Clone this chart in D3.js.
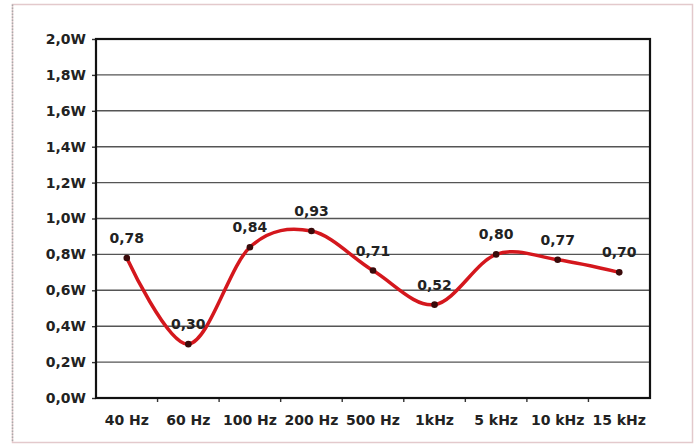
<!DOCTYPE html>
<html>
<head>
<meta charset="UTF-8">
<script src="https://d3js.org/d3.v7.min.js"></script>
<style>
  body { margin: 0; background: #fff; }
  text { font-family: "DejaVu Sans", Verdana, sans-serif; font-weight: bold; fill: #222; }
</style>
</head>
<body>
<svg width="697" height="445"></svg>
<script>
const categories = ["40 Hz", "60 Hz", "100 Hz", "200 Hz", "500 Hz", "1kHz", "5 kHz", "10 kHz", "15 kHz"];
const values = [0.78, 0.30, 0.84, 0.93, 0.71, 0.52, 0.80, 0.77, 0.70];
const yTicks = [0, 0.2, 0.4, 0.6, 0.8, 1.0, 1.2, 1.4, 1.6, 1.8, 2.0];

const data = categories.map((c, i) => ({ cat: c, val: values[i] }));

const margin = { top: 39, right: 47, bottom: 47, left: 96 },
      width = 697 - margin.left - margin.right,
      height = 445 - margin.top - margin.bottom;

const root = d3.select("svg");

// outer frame
root.append("rect")
    .attr("x", 12.5).attr("y", 4.5)
    .attr("width", 680).attr("height", 438)
    .attr("fill", "none")
    .attr("stroke", "#e3c9cc")
    .attr("stroke-width", 1.5);
root.append("line")
    .attr("x1", 12.5).attr("x2", 12.5)
    .attr("y1", 4.5).attr("y2", 442.5)
    .attr("stroke", "#aaa")
    .attr("stroke-width", 1.5)
    .attr("stroke-dasharray", "1.5,1.5");

const svg = root.append("g")
    .attr("transform", `translate(${margin.left},${margin.top})`);

const x = d3.scaleBand().domain(categories).range([0, width]);
const y = d3.scaleLinear().domain([0, 2]).range([height, 0]);

// gridlines
svg.selectAll(".grid")
   .data(yTicks)
   .enter()
   .append("line")
   .attr("x1", 0).attr("x2", width)
   .attr("y1", d => y(d)).attr("y2", d => y(d))
   .attr("stroke", "#555")
   .attr("stroke-width", 1.4);

// y axis
const yAxis = svg.append("g")
   .call(d3.axisLeft(y).tickValues(yTicks).tickSize(4).tickPadding(6)
         .tickFormat(d => d3.format(".1f")(d).replace(".", ",") + "W"));
yAxis.select(".domain").remove();
yAxis.selectAll("line").attr("stroke", "#333").attr("stroke-width", 1.4);
yAxis.selectAll("text").style("font-size", "14px").attr("fill", "#222");

// x axis
const xAxis = svg.append("g")
   .attr("transform", `translate(0,${height})`)
   .call(d3.axisBottom(x).tickSize(0).tickPadding(17));
xAxis.select(".domain").remove();
xAxis.selectAll("text").style("font-size", "14px").attr("fill", "#222");

// x tick marks at band boundaries
svg.selectAll(".xtick")
   .data(categories.slice(1))
   .enter()
   .append("line")
   .attr("x1", d => x(d)).attr("x2", d => x(d))
   .attr("y1", height).attr("y2", height + 4)
   .attr("stroke", "#333")
   .attr("stroke-width", 1.4);

// plot border
svg.append("rect")
   .attr("width", width).attr("height", height)
   .attr("fill", "none")
   .attr("stroke", "#111")
   .attr("stroke-width", 2.2);

const cx = d => x(d.cat) + x.bandwidth() / 2;

const line = d3.line()
    .x(cx)
    .y(d => y(d.val))
    .curve(d3.curveCardinal.tension(0));

svg.append("path")
   .datum(data)
   .attr("d", line)
   .attr("fill", "none")
   .attr("stroke", "#d4171d")
   .attr("stroke-width", 3.5);

svg.selectAll(".dot")
   .data(data)
   .enter()
   .append("circle")
   .attr("cx", cx)
   .attr("cy", d => y(d.val))
   .attr("r", 3.3)
   .attr("fill", "#3a0a0a");

svg.selectAll(".label")
   .data(data)
   .enter()
   .append("text")
   .attr("x", cx)
   .attr("y", d => y(d.val) - 15)
   .attr("text-anchor", "middle")
   .style("font-size", "14px")
   .text(d => d3.format(".2f")(d.val).replace(".", ","));
</script>
</body>
</html>
